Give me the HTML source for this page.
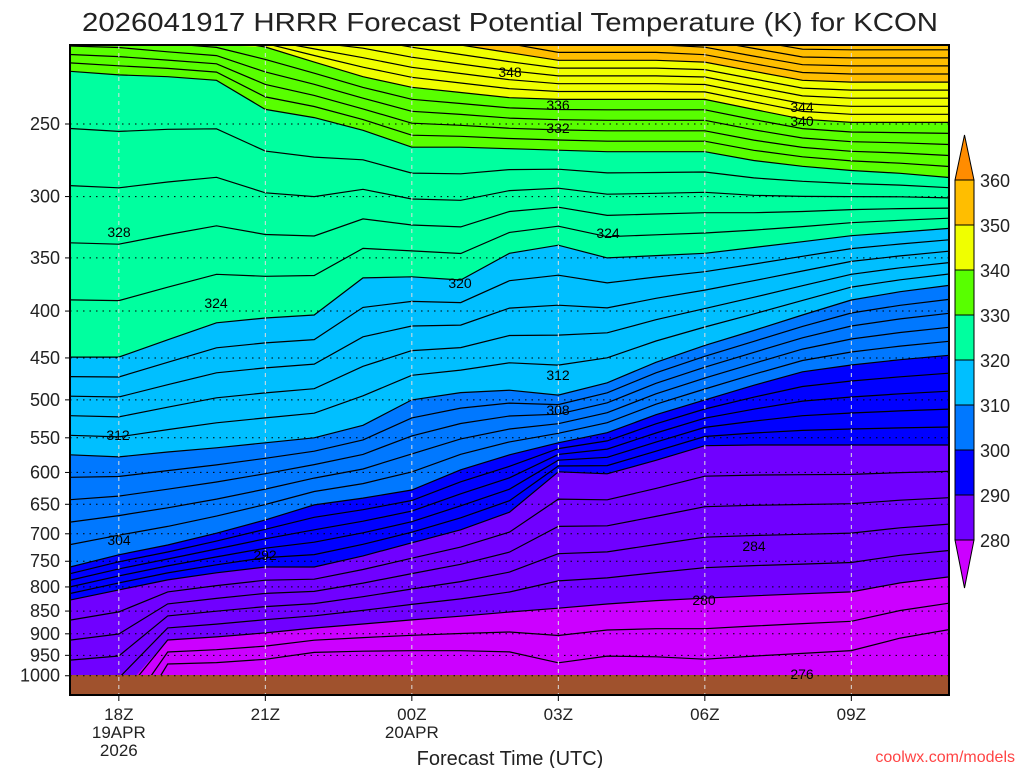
<!DOCTYPE html>
<html><head><meta charset="utf-8"><style>
body{margin:0;background:#fff;width:1024px;height:768px;overflow:hidden;font-family:"Liberation Sans",sans-serif}
svg text{font-family:"Liberation Sans",sans-serif}
</style></head><body>
<svg id="c" width="1024" height="768" xmlns="http://www.w3.org/2000/svg"></svg>
<script>
const hours = [17,18,19,20,21,22,23,24,25,26,27,28,29,30,31,32,33,34,35];
const levels = [280,290,300,310,320,330,340,350];
const p280 = [1063,1063,914,907,898,887,878,869,861,852,844,835,828,823,818,814,810,792,780];
const p290 = [827,806,786,772,761,761,740,716,693,663,599,602,582,561,560,560,560,560,560];
const p300 = [761,738,720,699,676,651,640,627,596,574,557,543,519,500,482,466,458,452,447];
const p310 = [574,577,570,564,557,550,533,500,491,488,494,479,455,436,420,404,389,381,375];
const p320 = [449,449,430,412,407,404,368,367,370,346,339,350,348,346,341,336,331,328,325];
const p330 = [219,221,222,224,241,246,254,265,265,266,267,268,268,268,274,278,281,283,286];
const p340 = [197,197,200,202,206,214,222,228,231,234,235,235,235,235,241,247,249,249,249];
const p350 = [197,197,197,197,197,197,197,201,205,209,213,213,213,214,219,224,225,225,225];
const yTicks = [250,300,350,400,450,500,550,600,650,700,750,800,850,900,950,1000];
const xTickHours = [18,21,24,27,30,33];
const xTickLabels = [["18Z","19APR","2026"],["21Z"],["00Z","20APR"],["03Z"],["06Z"],["09Z"]];
const cbLevels = [360,350,340,330,320,310,300,290,280];
const bands = [p280,p290,p300,p310,p320,p330,p340,p350];
const colors = ["#7000ff","#0000ff","#0078ff","#00bfff","#00ff9f","#58ff00","#f0ff00","#ffbe00"];

const L=70,R=949,T=45,B=695;
const X=h=>L+(h-17)*(R-L)/18;
const Y=p=>124+398*Math.log(p/250);
const NS="http://www.w3.org/2000/svg";
const svg=document.getElementById('c');
function el(t,a,parent){const e=document.createElementNS(NS,t);for(const k in a)e.setAttribute(k,a[k]);(parent||svg).appendChild(e);return e;}
function clampY(y){return Math.max(T,Math.min(B,y));}

const defs=el('defs',{});
const cp=el('clipPath',{id:'pc'},defs);el('rect',{x:L,y:T,width:R-L,height:B-T},cp);
const g=el('g',{'clip-path':'url(#pc)'});


const bg=el('rect',{x:L,y:T,width:R-L,height:B-T,fill:'#cc00ff'},g);


bands.forEach((arr,i)=>{
  let d='M'+L+','+T;
  arr.forEach((p,j)=>{d+=' L'+X(hours[j]).toFixed(1)+','+clampY(Y(p)).toFixed(1);});
  d+=' L'+R+','+T+' Z';
  const e=el('path',{d:d,fill:colors[i]},g);
  
  
});
const lnb=bands.map(a=>a.map(p=>Math.log(p)));
function contourLn(th,j){
  let k=Math.floor((th-280)/10);
  if(k<0)k=0; if(k>6)k=6;
  const a=lnb[k][j],b=lnb[k+1][j];
  return a+(b-a)*(th-levels[k])/10;
}
for(let th=276;th<=358;th+=2){
  let d='';
  hours.forEach((h,j)=>{d+=(j?' L':'M')+X(h).toFixed(1)+','+Y(Math.exp(contourLn(th,j))).toFixed(1);});
  const e=el('path',{d:d,fill:'none',stroke:'#000','stroke-width':1.2},g);
  
  
}
const gr=el('rect',{x:L,y:675,width:R-L,height:B-675,fill:'#a0522d'},g);


yTicks.forEach(p=>{const e=el('line',{x1:L,x2:R,y1:Y(p),y2:Y(p),stroke:'#000','stroke-width':1,'stroke-dasharray':'1.5 5'},g);

});
xTickHours.forEach(h=>{const e=el('line',{x1:X(h),x2:X(h),y1:T,y2:B,stroke:'#ddd','stroke-width':1,'stroke-dasharray':'4 4'},g);

});
[[119,232,'328'],[216,303,'324'],[118,435,'312'],[119,540,'304'],[265,555,'292'],[510,72,'348'],[558,105,'336'],[558,128,'332'],[802,107,'344'],[802,121,'340'],[608,233,'324'],[460,283,'320'],[558,375,'312'],[558,410,'308'],[754,546,'284'],[704,600,'280'],[802,674,'276']].forEach(l=>{
  const t=el('text',{x:l[0],y:l[1]+5,'font-size':14,'text-anchor':'middle',fill:'#000'},g);t.textContent=l[2];
  
  
});
const fr=el('rect',{x:L,y:T,width:R-L,height:B-T,fill:'none',stroke:'#000','stroke-width':2});


yTicks.forEach(p=>{
  const t=el('text',{x:60,y:Y(p)+6,'font-size':18,'text-anchor':'end',fill:'#222'});t.textContent=p;
  
  
  el('line',{x1:L-5,x2:L,y1:Y(p),y2:Y(p),stroke:'#000'});
});
xTickHours.forEach((h,i)=>{
  el('line',{x1:X(h),x2:X(h),y1:B,y2:B+6,stroke:'#000'});
  xTickLabels[i].forEach((s,k)=>{
    const t=el('text',{x:X(h),y:720+k*18,'font-size':17,'text-anchor':'middle',fill:'#222'});t.textContent=s;
    
    
  });
});
let t=el('text',{x:510,y:765,'font-size':20,'text-anchor':'middle',fill:'#222'});t.textContent='Forecast Time (UTC)';


t=el('text',{x:1015,y:762,'font-size':16,'text-anchor':'end',fill:'#ff4444'});t.textContent='coolwx.com/models';


t=el('text',{x:82,y:31,'font-size':26,fill:'#222',textLength:856,lengthAdjust:'spacingAndGlyphs'});t.textContent='2026041917 HRRR Forecast Potential Temperature (K) for KCON';


const cx=955,cw=19,cy=n=>180+(360-n)*4.5;
const cbg=el('g',{});


el('path',{d:`M${cx},${cy(360)} L${cx+cw/2},135 L${cx+cw},${cy(360)} Z`,fill:'#ff8c00',stroke:'#000'},cbg);
el('path',{d:`M${cx},${cy(280)} L${cx+cw/2},588 L${cx+cw},${cy(280)} Z`,fill:'#cc00ff',stroke:'#000'},cbg);
for(let i=0;i<8;i++){
  const top=cbLevels[i],bot=cbLevels[i+1];
  el('rect',{x:cx,y:cy(top),width:cw,height:cy(bot)-cy(top),fill:colors[7-i],stroke:'#000'},cbg);
}
cbLevels.forEach(n=>{const e=el('text',{x:980,y:cy(n)+7,'font-size':18,fill:'#222'},cbg);e.textContent=n;

});
</script>
</body></html>
